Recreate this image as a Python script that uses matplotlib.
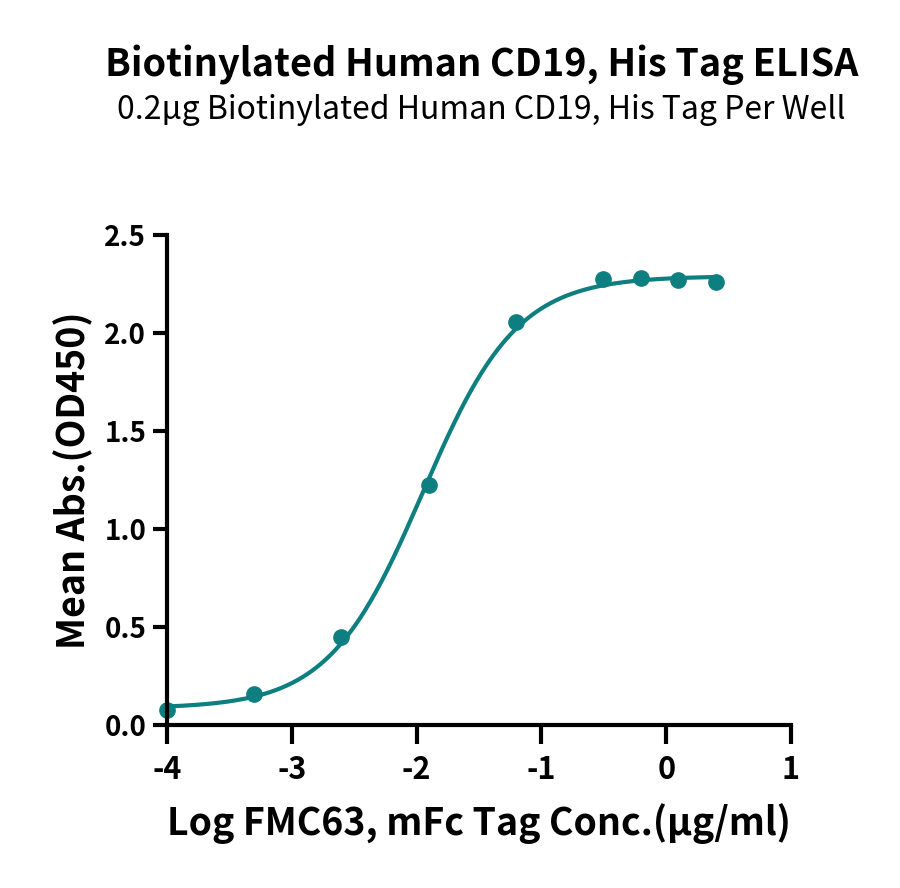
import numpy as np
import matplotlib
matplotlib.use("Agg")
import matplotlib.pyplot as plt

# ---- data ----
log_conc = [-4.0, -3.301, -2.602, -1.903, -1.204, -0.505, -0.204, 0.097, 0.398]
mean_abs = [0.077, 0.157, 0.447, 1.224, 2.058, 2.274, 2.279, 2.270, 2.262]
# 4PL fit parameters estimated from the drawn curve
fit_bottom = 0.085
fit_top = 2.29
fit_logec50 = -1.95
fit_hill = 1.15

xticks = [-4, -3, -2, -1, 0, 1]
yticks = [0.0, 0.5, 1.0, 1.5, 2.0, 2.5]
ytick_labels = ["0.0", "0.5", "1.0", "1.5", "2.0", "2.5"]

title = "Biotinylated Human CD19, His Tag ELISA"
subtitle = "0.2\u03bcg Biotinylated Human CD19, His Tag Per Well"
xlabel = "Log FMC63, mFc Tag Conc.(\u03bcg/ml)"
ylabel = "Mean Abs.(OD450)"

color = "#0E7F80"
FONT = ["Noto Sans CJK SC", "DejaVu Sans"]
plt.rcParams["font.family"] = FONT

W, H = 900, 888
fig = plt.figure(figsize=(W / 100, H / 100), dpi=100)
ax = fig.add_axes([167 / W, (H - 725) / H, (791 - 167) / W, (725 - 235) / H])

xs = np.linspace(min(log_conc), max(log_conc), 400)
ys = fit_bottom + (fit_top - fit_bottom) / (1 + 10 ** ((fit_logec50 - xs) * fit_hill))
ax.plot(xs, ys, color=color, lw=3.0, clip_on=False, solid_capstyle="round")
ax.plot(log_conc, mean_abs, "o", color=color, ms=11, clip_on=False)

ax.set_xlim(-4, 1)
ax.set_ylim(0, 2.5)
ax.set_xticks(xticks)
ax.set_xticklabels([str(t) for t in xticks])
ax.set_yticks(yticks)
ax.set_yticklabels(ytick_labels)
for s in ["top", "right"]:
    ax.spines[s].set_visible(False)
for s in ["left", "bottom"]:
    ax.spines[s].set_linewidth(3.0)
ax.tick_params(axis="both", width=3.0, direction="out", colors="black")
ax.tick_params(axis="x", pad=7, labelsize=22, length=14)
ax.tick_params(axis="y", pad=5, labelsize=20, length=10)
for lab in ax.get_xticklabels() + ax.get_yticklabels():
    lab.set_fontweight("bold")

ax.set_xlabel(xlabel, fontsize=27, fontweight="bold", labelpad=12)
ax.set_ylabel(ylabel, fontsize=27, fontweight="bold", labelpad=8)

fig.text(482 / W, 1 - 65 / H, title, ha="center", va="center",
         fontsize=27.3, fontweight="bold")
fig.text(481 / W, 1 - 110 / H, subtitle, ha="center", va="center",
         fontsize=23)

fig.savefig("out.png", dpi=100, facecolor="white")
